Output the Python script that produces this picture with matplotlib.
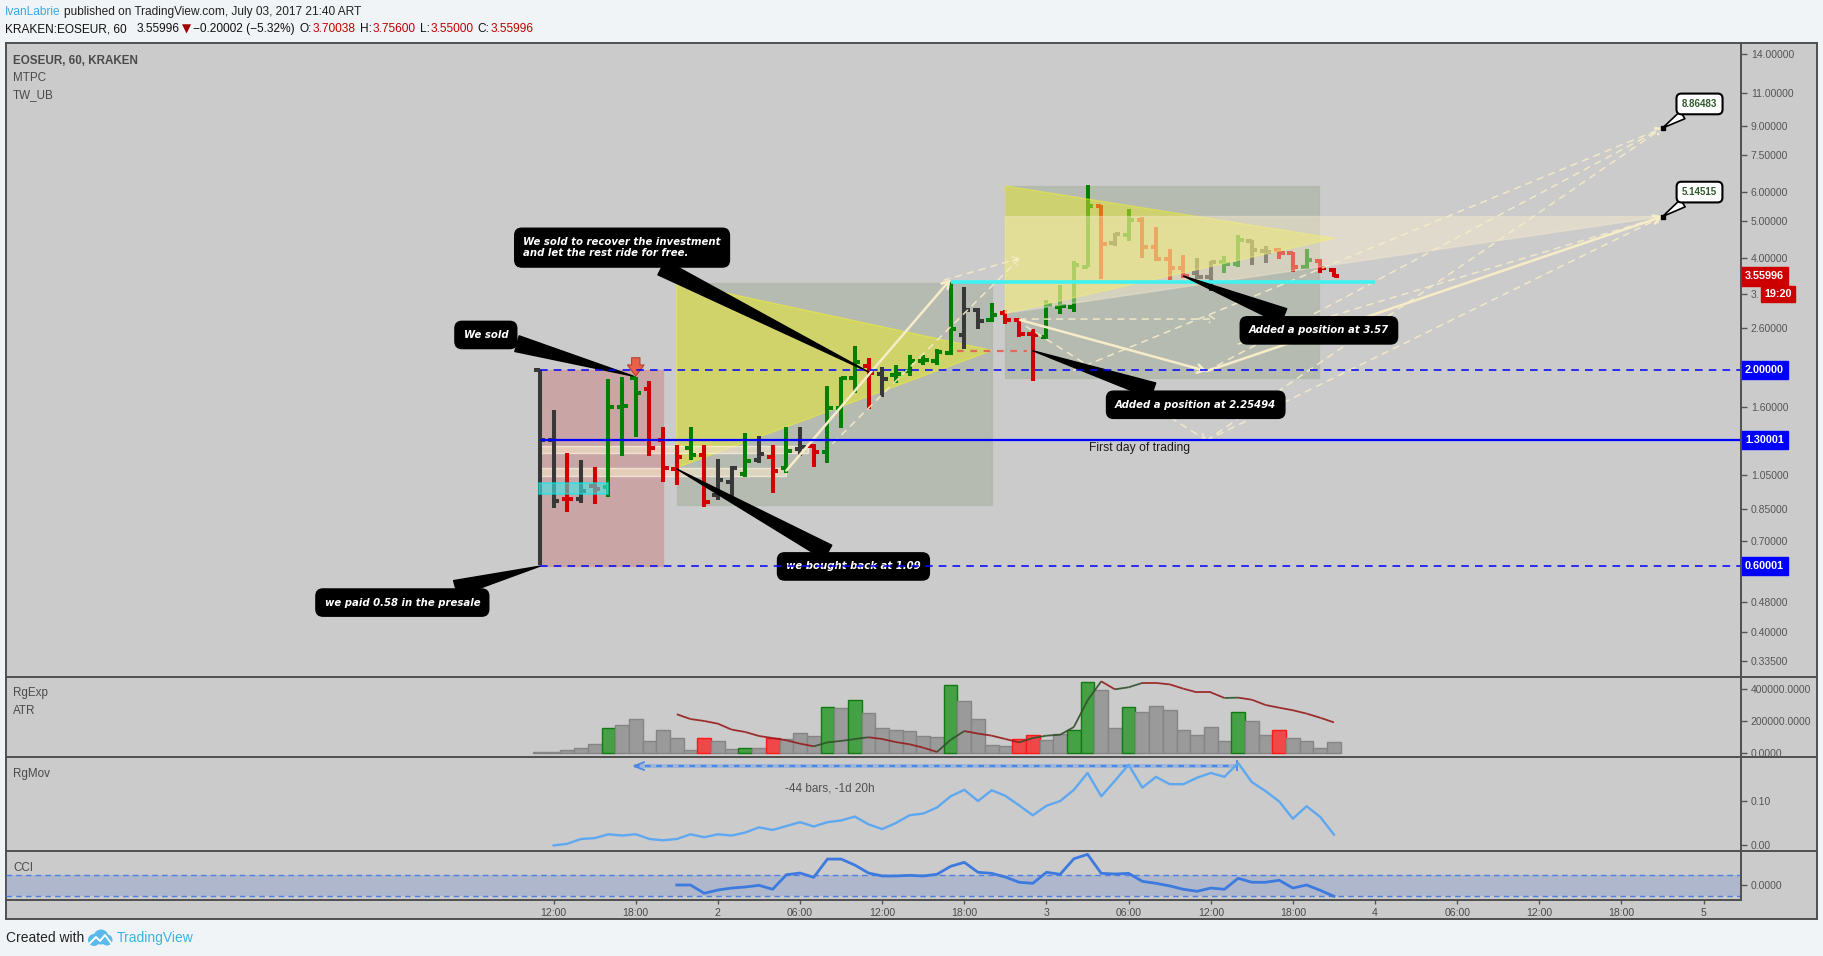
import numpy as np
import matplotlib
matplotlib.use("Agg")
import matplotlib.pyplot as plt
from matplotlib import font_manager
from matplotlib.patches import Rectangle, Polygon, Circle
from matplotlib.lines import Line2D
from matplotlib.collections import LineCollection
from matplotlib.transforms import blended_transform_factory

plt.rcParams['font.family'] = ['Liberation Sans', 'DejaVu Sans']
names = {f.name for f in font_manager.fontManager.ttflist}
NARROW = 'Liberation Sans Narrow' if 'Liberation Sans Narrow' in names else 'Liberation Sans'

# ---- hourly OHLC bars, hours counted from July 1 00:00 ----
bar_hours = list(range(11, 70))
opens = [2.000, 1.303, 0.909, 0.909, 0.982, 0.978, 1.600, 1.904, 1.787, 1.303,
         1.088, 1.243, 1.189, 0.930, 1.009, 1.058, 1.153, 1.176, 1.095, 1.236,
         1.256, 1.213, 1.590, 1.904, 2.054, 1.951, 1.943, 1.992, 2.122, 2.122,
         2.229, 2.490, 2.898, 2.725, 2.839, 2.725, 2.500, 2.460, 2.958, 2.958,
         3.780, 5.491, 4.366, 4.595, 5.039, 4.259, 3.973, 3.759, 3.630, 3.557,
         3.900, 3.845, 4.419, 4.165, 4.190, 4.122, 3.782, 3.924, 3.70038]
highs = [2.000, 1.567, 1.201, 1.153, 1.104, 1.896, 1.924, 1.917, 1.873, 1.409,
         1.264, 1.409, 1.264, 1.160, 1.111, 1.358, 1.336, 1.264, 1.409, 1.409,
         1.269, 1.816, 1.917, 2.323, 2.153, 2.045, 2.067, 2.198, 2.198, 2.280,
         3.449, 3.338, 2.934, 3.025, 2.898, 2.753, 2.573, 3.082, 3.379, 3.916,
         6.248, 5.525, 4.642, 5.391, 5.122, 4.816, 4.207, 4.063, 3.981, 3.924,
         4.038, 4.595, 4.456, 4.295, 4.242, 4.148, 4.207, 3.957, 3.756]
lows = [0.603, 0.860, 0.839, 0.887, 0.881, 0.920, 1.184, 1.330, 1.184, 1.009,
        0.988, 1.153, 0.862, 0.901, 0.898, 1.036, 1.129, 0.943, 1.062, 1.184,
        1.106, 1.134, 1.406, 1.736, 1.580, 1.701, 1.854, 1.935, 2.062, 2.071,
        2.202, 2.276, 2.584, 2.686, 2.659, 2.460, 1.877, 2.420, 2.827, 2.868,
        3.767, 3.499, 4.295, 4.438, 3.997, 3.924, 3.485, 3.521, 3.499, 3.264,
        3.630, 3.767, 3.829, 3.861, 3.957, 3.668, 3.721, 3.630, 3.550]
closes = [1.303, 0.898, 0.905, 0.955, 0.962, 1.600, 1.610, 1.743, 1.243, 1.095,
          1.172, 1.189, 0.890, 1.019, 1.100, 1.148, 1.198, 1.079, 1.218, 1.251,
          1.213, 1.583, 1.904, 2.109, 1.972, 1.896, 1.951, 2.122, 2.130, 2.243,
          2.584, 2.898, 2.714, 2.810, 2.725, 2.500, 2.490, 2.988, 2.976, 3.821,
          5.491, 4.348, 4.614, 5.039, 4.259, 3.973, 3.744, 3.572, 3.542, 3.892,
          3.845, 4.456, 4.190, 4.148, 4.122, 3.782, 3.941, 3.744, 3.55996]
bar_kind = ("d d r d r g g g r r  r g r d d g d r g d  r g g g r d g g g g  "
            "g d d g r r r g g g  g r d g r r r r d d  g g d d r r g r r").split()

# RgExp histogram (thousands)
vol_k = [4, 4, 14, 28, 52, 152, 170, 208, 73, 139,
         89, 14, 89, 73, 20, 28, 28, 89, 83, 120,
         102, 283, 277, 327, 248, 152, 141, 133, 102, 95,
         421, 321, 208, 45, 39, 83, 108, 77, 114, 139,
         440, 390, 152, 283, 252, 290, 265, 139, 108, 158,
         70, 252, 196, 108, 139, 89, 70, 26, 64]
vol_green = [16, 26, 32, 34, 41, 50, 51, 54, 62]
vol_red = [23, 28, 46, 47, 65]

# ATR line (thousands)
atr_hours = list(range(21, 70))
atr_k = [240, 210, 198, 181, 144, 129, 104, 91, 77, 56,
         39, 64, 73, 85, 96, 85, 66, 52, 31, 4,
         80, 135, 119, 106, 85, 64, 91, 106, 112, 160,
         327, 446, 396, 409, 436, 436, 427, 400, 377, 377,
         342, 344, 331, 298, 281, 265, 244, 218, 189]

# RgMov
mov_hours = list(range(12, 70))
mov = [-0.002, 0.002, 0.013, 0.015, 0.024, 0.021, 0.024, 0.013, 0.010, 0.013,
       0.024, 0.017, 0.024, 0.021, 0.028, 0.040, 0.034, 0.043, 0.052, 0.042,
       0.052, 0.056, 0.065, 0.047, 0.036, 0.050, 0.068, 0.072, 0.086, 0.112,
       0.127, 0.101, 0.126, 0.113, 0.091, 0.068, 0.090, 0.101, 0.127, 0.166,
       0.112, 0.148, 0.185, 0.132, 0.157, 0.140, 0.140, 0.155, 0.166, 0.157,
       0.189, 0.145, 0.124, 0.100, 0.060, 0.089, 0.064, 0.023]

# CCI
cci_hours = list(range(21, 70))
cci = [3, 3, -76, -45, -26, -16, 0, -38, 101, 117,
       76, 250, 250, 193, 117, 89, 89, 95, 89, 105,
       181, 219, 124, 114, 79, 29, 19, 124, 105, 253,
       295, 114, 108, 114, 38, 19, -6, -38, -57, -26,
       -38, 67, 29, 29, 48, -26, 3, -48, -105]

price_ticks = [14, 11, 9, 7.5, 6, 5, 4, 3.2, 2.6, 2.0, 1.6, 1.3, 1.05, 0.85, 0.7, 0.58, 0.48, 0.4, 0.335]
price_labels = ["14.00000", "11.00000", "9.00000", "7.50000", "6.00000", "5.00000", "4.00000", "3.",
                "2.60000", "", "1.60000", "", "1.05000", "0.85000", "0.70000", "", "0.48000",
                "0.40000", "0.33500"]
time_ticks = [12, 18, 24, 30, 36, 42, 48, 54, 60, 66, 72, 78, 84, 90, 96]
time_labels = ["12:00", "18:00", "2", "06:00", "12:00", "18:00", "3", "06:00", "12:00",
               "18:00", "4", "06:00", "12:00", "18:00", "5"]

W, H = 1824, 956
XLIM = (-28, 98.73)
fig = plt.figure(figsize=(W / 100, H / 100), dpi=100, facecolor="#f1f4f7")


def axes_px(x0, y0, x1, y1):
    a = fig.add_axes([x0 / W, 1 - y1 / H, (x1 - x0) / W, (y1 - y0) / H])
    a.set_facecolor("none")
    for s in a.spines.values():
        s.set_visible(False)
    return a


def fig_text(x, y, s, **kw):
    return fig.text(x / W, 1 - y / H, s, va="center", **kw)


def fig_line(x0, y0, x1, y1):
    fig.add_artist(Line2D([x0 / W, x1 / W], [1 - y0 / H, 1 - y1 / H],
                          transform=fig.transFigure, color="#4f4f4f", lw=1.4))


def right_ticks(a, ticks, labels):
    a.yaxis.tick_right()
    a.set_yticks(ticks)
    a.set_yticklabels(labels)
    a.minorticks_off()
    a.tick_params(axis="y", direction="out", length=4, width=1, color="#555555",
                  labelcolor="#555555", labelsize=7.5, pad=3)


frame = axes_px(6, 43, 1817, 919)
frame.set_facecolor("#cbcbcb")
frame.set_xticks([])
frame.set_yticks([])
for s in frame.spines.values():
    s.set_visible(True)
    s.set_color("#4f4f4f")
    s.set_linewidth(1.4)

# ---------------- main price panel ----------------
ax = axes_px(6, 43, 1741, 677)
ax.set_yscale("log")
ax.set_xlim(*XLIM)
ax.set_ylim(0.3036, 14.95)
ax.set_xticks([])
right_ticks(ax, price_ticks, price_labels)

# drawings behind the bars
ax.add_patch(Rectangle((11, 0.6), 9, 1.4, fc="#c87878", alpha=0.45, ec="#d88888", lw=1, zorder=1))
ax.add_patch(Rectangle((21, 0.874), 23, 3.43 - 0.874, fc="#8a9a80", alpha=0.32, ec="#a0aa98", lw=1, zorder=1))
ax.add_patch(Polygon([(21, 3.43), (21, 1.10), (44, 2.26)], fc="#e6e830", alpha=0.55, ec="#eeee30", lw=1, zorder=1))
ax.add_patch(Rectangle((45, 1.904), 22.9, 6.21 - 1.904, fc="#8a9a80", alpha=0.32, ec="#a0aa98", lw=1, zorder=1))
ax.add_patch(Rectangle((11, 1.201), 19.6, 1.256 - 1.201, fc="#f3e2c8", alpha=0.65, ec="#fff6e4", lw=1, zorder=1))
ax.add_patch(Rectangle((11, 1.047), 18, 1.095 - 1.047, fc="#f3e2c8", alpha=0.65, ec="#fff6e4", lw=1, zorder=1))

colors = {"g": "#008000", "r": "#d20000", "d": "#383838"}
for h, o, hi, lo, c, k in zip(bar_hours, opens, highs, lows, closes, bar_kind):
    col = colors[k]
    ax.vlines(h, lo, hi, color=col, lw=2.9, zorder=2)
    ax.hlines(o, h - 0.4, h, color=col, lw=2.9, zorder=2)
    ax.hlines(c, h, h + 0.4, color=col, lw=2.9, zorder=2)

ax.add_patch(Rectangle((10.9, 0.933), 5.1, 1.003 - 0.933, fc="#40e8e8", alpha=0.6, ec="#00f0f0", lw=1.2, zorder=2.5))
ax.plot([41.5, 46.6], [2.255, 2.255], color="#e06a5a", lw=1.6, dashes=(3, 3), zorder=2.5)

# drawings over the bars
ax.add_patch(Polygon([(45, 6.21), (45, 2.84), (69, 4.50)], fc="#e6e830", alpha=0.5, ec="#eeee30", lw=1, zorder=3))
ax.add_patch(Polygon([(45, 5.145), (93, 5.145), (45, 2.84)], fc="#fff1d0", alpha=0.42, ec="#f3e9cc", lw=1, zorder=3))

beige = "#f6ecc8"
solid = [((29, 1.08), (41, 3.5)), ((46.06, 2.725), (59.7, 1.99)), ((59.7, 1.99), (93, 5.145))]
dashed = [((32.4, 1.277), (46.06, 3.98)), ((40.5, 3.48), (46.06, 3.98)), ((46.06, 2.74), (60.4, 2.74)),
          ((46.5, 2.62), (59.7, 1.30)), ((59.7, 1.30), (93, 8.865)), ((59.7, 1.30), (93, 5.145)),
          ((59.7, 1.99), (93, 8.865)), ((50, 2.0), (93, 8.865)), ((62, 2.35), (93, 5.145))]
for a, b in solid:
    ax.annotate("", xy=b, xytext=a, zorder=3.5,
                arrowprops=dict(arrowstyle="->,head_length=0.5,head_width=0.3", color=beige, lw=1.8,
                                shrinkA=0, shrinkB=0))
for a, b in dashed:
    ax.annotate("", xy=b, xytext=a, zorder=3.5,
                arrowprops=dict(arrowstyle="->,head_length=0.4,head_width=0.25", color=beige, lw=1.1,
                                linestyle=(0, (4, 4)), shrinkA=0, shrinkB=0, alpha=0.9))

ax.hlines(3.45, 41, 72, color="#3ff2f2", lw=2.6, zorder=4)

# red arrow above the sell bar
ax.annotate("", xy=(18, 1.93), xytext=(18, 2.16), zorder=4,
            arrowprops=dict(arrowstyle="simple,head_width=1.2,head_length=0.8,tail_width=0.6",
                            fc="#e8604a", ec="#b84030", lw=0.8, shrinkA=0, shrinkB=0))

# horizontal level lines
ax.hlines(2.0, 11, XLIM[1], color="#0000ff", lw=1.1, linestyles=(0, (5, 4)), zorder=6)
ax.hlines(1.30001, 11, XLIM[1], color="#0000ff", lw=1.6, zorder=6)
ax.hlines(0.60001, 11, XLIM[1], color="#0000ff", lw=1.1, linestyles=(0, (5, 4)), zorder=6)

ax.text(54.8, 1.241, "First day of trading", ha="center", va="center", fontsize=8.7,
        color="#1a1a1a", zorder=5)

# callouts
callouts = [
    ("We sold", (17.8, 1.93), (7.05, 2.485)),
    ("We sold to recover the investment\nand let the rest ride for free.", (35.0, 1.98), (17.0, 4.25)),
    ("we paid 0.58 in the presale", (11.0, 0.60), (0.95, 0.4797)),
    ("we bought back at 1.09", (21.0, 1.09), (33.9, 0.599)),
    ("Added a position at 3.57", (58.0, 3.57), (67.9, 2.556)),
    ("Added a position at 2.25494", (47.0, 2.255), (58.9, 1.618)),
]
for txt, pt, ctr in callouts:
    ax.annotate(txt, xy=pt, xytext=ctr, ha="center", va="center", multialignment="left",
                fontsize=7.3, color="white", weight="bold", style="italic", family="DejaVu Sans",
                zorder=5,
                bbox=dict(boxstyle="round,pad=0.85,rounding_size=0.7", fc="black", ec="black"),
                arrowprops=dict(arrowstyle="wedge,tail_width=1.6,shrink_factor=0.5", fc="black",
                                ec="black", shrinkA=0, shrinkB=0))

for val, ctr in [(8.86483, (95.7, 10.28)), (5.14515, (95.7, 5.98))]:
    ax.annotate(f"{val:.5f}", xy=(93, val), xytext=ctr, ha="center", va="center", fontsize=7,
                color="#2d5a2d", weight="bold", zorder=5,
                bbox=dict(boxstyle="round,pad=0.55,rounding_size=0.5", fc="white", ec="black", lw=1.5),
                arrowprops=dict(arrowstyle="wedge,tail_width=0.9,shrink_factor=0.5", fc="white",
                                ec="black", lw=1.2, shrinkA=0, shrinkB=0))
    ax.plot(93, val, "s", ms=2.5, color="black", zorder=5)

# price-scale labels
tr = blended_transform_factory(ax.transAxes, ax.transData)
x_lab = 1 + 4 / 1735
for val, txt, col in [(3.55996, "3.55996", "#cc0000"), (2.0, "2.00000", "#0000ff"),
                      (1.30001, "1.30001", "#0000ff"), (0.60001, "0.60001", "#0000ff")]:
    ax.text(x_lab, val, txt, transform=tr, ha="left", va="center", fontsize=7.8, color="white",
            weight="bold", clip_on=False, zorder=7,
            bbox=dict(boxstyle="square,pad=0.38", fc=col, ec=col))
ax.text(1 + 23 / 1735, 3.197, "19:20", transform=tr, ha="left", va="center", fontsize=7.8,
        color="white", weight="bold", clip_on=False, zorder=7,
        bbox=dict(boxstyle="square,pad=0.3", fc="#cc0000", ec="#cc0000"))

# ---------------- RgExp / ATR panel ----------------
ax2 = axes_px(6, 677, 1741, 757)
ax2.set_xlim(*XLIM)
ax2.set_ylim(-27500, 473200)
ax2.set_xticks([])
right_ticks(ax2, [0, 200000, 400000], ["0.0000", "200000.0000", "400000.0000"])
fcs, ecs = [], []
for h in bar_hours:
    if h in vol_green:
        fcs.append("#46a046"); ecs.append("#137a13")
    elif h in vol_red:
        fcs.append("#f04848"); ecs.append("#ff1a1a")
    else:
        fcs.append("#9a9a9a"); ecs.append("#858585")
ax2.bar(bar_hours, np.array(vol_k) * 1000, width=1.0, color=fcs, edgecolor=ecs, lw=1, zorder=2)
atr = np.array(atr_k) * 1000
pts = np.column_stack([atr_hours, atr])
segs = np.stack([pts[:-1], pts[1:]], axis=1)
seg_cols = ["#31502a" if atr[i + 1] > atr[i] else "#961c1c" for i in range(len(atr) - 1)]
ax2.add_collection(LineCollection(segs, colors=seg_cols, lw=1.3, alpha=0.9, zorder=3))

# ---------------- RgMov panel ----------------
ax3 = axes_px(6, 757, 1741, 851)
ax3.set_xlim(*XLIM)
ax3.set_ylim(-0.0148, 0.203)
ax3.set_xticks([])
right_ticks(ax3, [0.0, 0.1], ["0.00", "0.10"])
ax3.plot(mov_hours, mov, color="#5ea8f2", lw=1.7, zorder=3)
ax3.fill_between([17.9, 61.9], 0.177, 0.187, color="#6a9ee8", alpha=0.45, lw=0, zorder=2)
ax3.plot([17.9, 61.9], [0.182, 0.182], color="#4a88e8", lw=1.6, dashes=(2.5, 2.5), zorder=2)
ax3.plot([18.6, 17.9, 18.6], [0.191, 0.182, 0.173], color="#4a88e8", lw=1.3, zorder=2)
ax3.vlines(61.9, 0.171, 0.195, color="#4a88e8", lw=1.3, zorder=2)
ax3.text(32.2, 0.131, "-44 bars, -1d 20h", ha="center", va="center", fontsize=8.5, color="#505050")

# ---------------- CCI panel ----------------
ax4 = axes_px(6, 851, 1741, 900)
ax4.set_xlim(*XLIM)
ax4.set_ylim(-140, 327)
right_ticks(ax4, [0], ["0.0000"])
ax4.axhspan(-100, 100, color="#5b7fd0", alpha=0.25, lw=0, zorder=1)
ax4.axhline(100, color="#4d80e4", lw=1, dashes=(4, 3), zorder=2)
ax4.axhline(-100, color="#4d80e4", lw=1, dashes=(4, 3), zorder=2)
ax4.plot(cci_hours, cci, color="#3d7ae0", lw=2, zorder=3)
ax4.set_xticks(time_ticks)
ax4.set_xticklabels(time_labels)
ax4.tick_params(axis="x", direction="out", length=3, width=1, color="#555555",
                labelcolor="#4a4a4a", labelsize=7.6, pad=3)

# separators
for y in (677, 757, 851):
    fig_line(6, y, 1817, y)
fig_line(6, 900, 1741, 900)
fig_line(1741, 43, 1741, 900)

# panel titles
fig_text(13, 61, "EOSEUR, 60, KRAKEN", fontsize=8.4, color="#4a4a4a", weight="bold", family=NARROW)
fig_text(13, 78, "MTPC", fontsize=8.4, color="#4a4a4a", family=NARROW)
fig_text(13, 95, "TW_UB", fontsize=8.4, color="#4a4a4a", family=NARROW)
fig_text(13, 693, "RgExp", fontsize=8.4, color="#4a4a4a", family=NARROW)
fig_text(13, 711, "ATR", fontsize=8.4, color="#4a4a4a", family=NARROW)
fig_text(13, 774, "RgMov", fontsize=8.4, color="#4a4a4a", family=NARROW)
fig_text(13, 868, "CCI", fontsize=8.4, color="#4a4a4a", family=NARROW)

# header, laid out piece by piece
renderer = fig.canvas.get_renderer()


def text_run(y, pieces, size):
    x = 5
    for s, c, fam, gap in pieces:
        t = fig_text(x, y, s, fontsize=size, color=c, family=fam)
        x += t.get_window_extent(renderer).width + gap


FAM = [NARROW, "DejaVu Sans"]
text_run(12, [("IvanLabrie", "#3aa8e0", FAM, 3),
              ("published on TradingView.com, July 03, 2017 21:40 ART", "#222222", FAM, 0)], 8.6)
text_run(29, [("KRAKEN:EOSEUR, 60", "#111111", FAM, 10), ("3.55996", "#111111", FAM, 2),
              ("\u25bc", "#a00000", "DejaVu Sans", 2), ("\u22120.20002 (\u22125.32%)", "#111111", FAM, 5),
              ("O:", "#111111", FAM, 1), ("3.70038", "#c00000", FAM, 4),
              ("H:", "#111111", FAM, 1), ("3.75600", "#c00000", FAM, 4),
              ("L:", "#111111", FAM, 1), ("3.55000", "#c00000", FAM, 4),
              ("C:", "#111111", FAM, 1), ("3.55996", "#c00000", FAM, 0)], 8.6)

# footer
fig_text(6, 938, "Created with", fontsize=10, color="#222222", family=NARROW)
fig_text(117, 938, "TradingView", fontsize=10, color="#3bb3e4", family=NARROW)
logo = axes_px(87, 929, 113, 947)
logo.set_xlim(0, 26)
logo.set_ylim(0, 18)
logo.set_xticks([])
logo.set_yticks([])
for cx, cy, r in [(7, 7, 6), (14, 10, 7.5), (20, 7, 5.5)]:
    logo.add_patch(Circle((cx, cy), r, fc="#5ab9ea", ec="none"))
logo.plot([3, 9, 13, 18, 24], [4, 10, 6, 12, 4], color="white", lw=1.4)

fig.savefig("out.png", dpi=100, facecolor=fig.get_facecolor())
